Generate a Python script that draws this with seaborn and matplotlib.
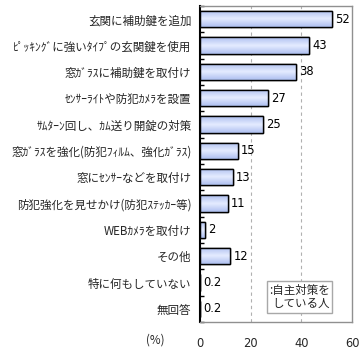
import numpy as np
import pandas as pd
import matplotlib
matplotlib.use("Agg")
import matplotlib.pyplot as plt
import seaborn as sns

categories = [
    "玄関に補助鍵を追加",
    "ﾋﾟｯｷﾝｸﾞに強いﾀｲﾌﾟの玄関鍵を使用",
    "窓ｶﾞﾗｽに補助鍵を取付け",
    "ｾﾝｻｰﾗｲﾄや防犯ｶﾒﾗを設置",
    "ｻﾑﾀｰﾝ回し、ｶﾑ送り開錠の対策",
    "窓ｶﾞﾗｽを強化(防犯ﾌｨﾙﾑ、強化ｶﾞﾗｽ)",
    "窓にｾﾝｻｰなどを取付け",
    "防犯強化を見せかけ(防犯ｽﾃｯｶｰ等)",
    "WEBｶﾒﾗを取付け",
    "その他",
    "特に何もしていない",
    "無回答",
]
values = [52, 43, 38, 27, 25, 15, 13, 11, 2, 12, 0.2, 0.2]
value_labels = ["52", "43", "38", "27", "25", "15", "13", "11", "2", "12", "0.2", "0.2"]
x_ticks = [0, 20, 40, 60]
legend_text = ":自主対策を\nしている人"

sns.set_theme(style="white")
plt.rcParams["font.family"] = ["Noto Sans CJK JP", "DejaVu Sans"]

df = pd.DataFrame({"item": categories, "pct": values})

fig = plt.figure(figsize=(3.6, 3.5), dpi=100)
ax = fig.add_axes([0.555, 0.08, 0.423, 0.903])

sns.barplot(data=df, x="pct", y="item", orient="h", ax=ax,
            color="#b4c4f2", edgecolor="black", linewidth=1.0,
            width=0.62, saturation=1)

# vertical gradient inside each bar: darker at edges, lighter in the middle
grad = np.abs(np.linspace(-1, 1, 64))[:, None]
cmap = matplotlib.colors.LinearSegmentedColormap.from_list(
    "barfill", ["#e4ebff", "#aebff0"])
for p in ax.patches:
    x0, y0 = p.get_x(), p.get_y()
    w, h = p.get_width(), p.get_height()
    im = ax.imshow(grad, cmap=cmap, aspect="auto", interpolation="bilinear",
                   extent=(x0, x0 + w, y0 + h, y0), zorder=p.get_zorder() + 0.1)
    im.set_clip_path(p)
    edge = matplotlib.patches.Rectangle((x0, y0), w, h, fill=False,
                                        edgecolor="black", linewidth=1.0,
                                        zorder=p.get_zorder() + 0.2)
    ax.add_patch(edge)

for i, (v, lab) in enumerate(zip(values, value_labels)):
    ax.text(v + 1.2, i, lab, va="center", ha="left", fontsize=8.3,
            family="DejaVu Sans", color="black")

ax.set_xlim(0, 60)
ax.set_ylim(len(categories) - 0.5, -0.5)
ax.set_xticks(x_ticks)
ax.set_xticklabels([str(t) for t in x_ticks], fontsize=8.3, family="DejaVu Sans")
ax.tick_params(axis="x", length=0, pad=11)
ax.tick_params(axis="y", which="major", length=0, pad=6, labelsize=8.3)
ax.set_yticks(np.arange(-0.5, len(categories), 1.0), minor=True)
ax.tick_params(axis="y", which="minor", direction="in", length=3, width=1,
               color="black", left=True)
ax.set_xlabel("")
ax.set_ylabel("")

for xv in x_ticks[1:-1]:
    ax.axvline(xv, color="#b0b0b0", linestyle=(0, (3, 3)), linewidth=0.8, zorder=0)

for side in ["top", "right", "bottom"]:
    ax.spines[side].set_color("#909090")
    ax.spines[side].set_linewidth(1)
ax.spines["left"].set_color("black")
ax.spines["left"].set_linewidth(1.5)

ax.text(39.4, 10.55, legend_text, fontsize=8.3, ha="center", va="center",
        multialignment="right", linespacing=1.05,
        bbox=dict(boxstyle="square,pad=0.2", facecolor="white",
                  edgecolor="#a8a8a8", linewidth=1))

fig.text(155 / 360, 1 - 340 / 350, "(%)", fontsize=8.3, ha="center", va="center")

fig.savefig("out.png", dpi=100)
